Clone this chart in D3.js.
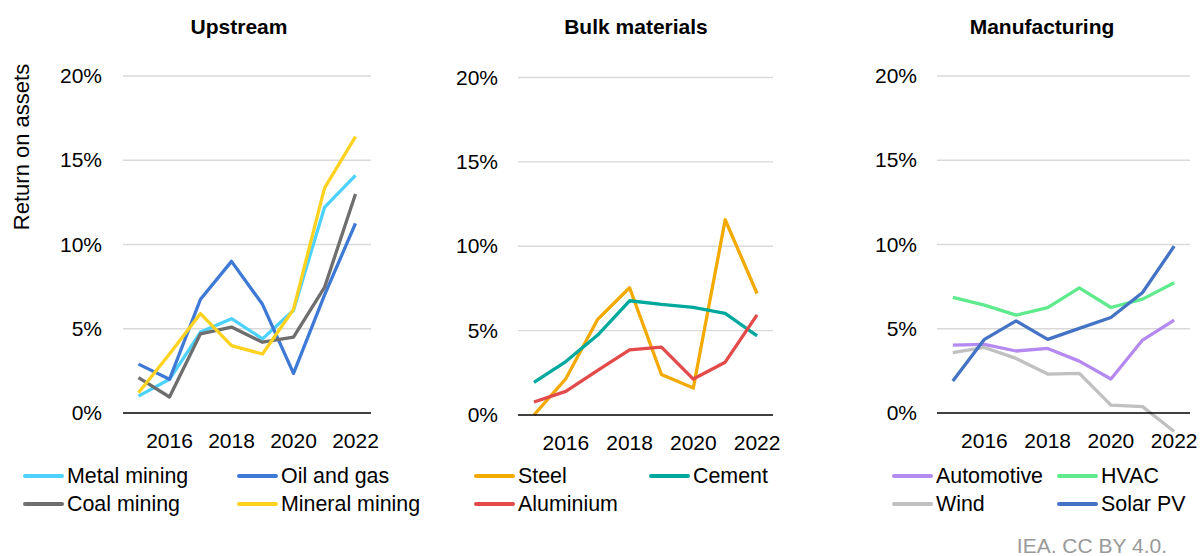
<!DOCTYPE html>
<html><head><meta charset="utf-8">
<script src="https://cdn.jsdelivr.net/npm/d3@7"></script>
<style>
html,body{margin:0;padding:0;background:#fff;}
svg{display:block;font-family:"Liberation Sans",Arial,sans-serif;}
</style></head>
<body><svg id="c" width="1200" height="556"></svg>
<script>
const years = [2015, 2016, 2017, 2018, 2019, 2020, 2021, 2022];
const yTicks = [0, 5, 10, 15, 20];
const xTickLabels = [2016, 2018, 2020, 2022];
const panelTitles = ["Upstream", "Bulk materials", "Manufacturing"];
const yAxisTitle = "Return on assets";
const sourceText = "IEA. CC BY 4.0.";

// Upstream
const metalMining   = [1.0, 2.0, 4.8, 5.6, 4.4, 6.1, 12.2, 14.1];
const oilAndGas     = [2.9, 2.0, 6.75, 9.0, 6.45, 2.35, 7.0, 11.25];
const coalMining    = [2.1, 0.95, 4.7, 5.1, 4.2, 4.5, 7.45, 13.0];
const mineralMining = [1.2, 3.5, 5.9, 4.0, 3.5, 6.15, 13.35, 16.4];
// Bulk materials
const steel     = [0.0, 2.15, 5.67, 7.54, 2.4, 1.6, 11.57, 7.2];
const cement    = [1.93, 3.17, 4.74, 6.77, 6.55, 6.38, 6.02, 4.69];
const aluminium = [0.77, 1.4, 2.64, 3.86, 4.02, 2.13, 3.13, 5.93];
// Manufacturing
const automotive = [4.03, 4.07, 3.68, 3.83, 3.08, 2.02, 4.33, 5.51];
const hvac       = [6.86, 6.4, 5.81, 6.25, 7.43, 6.26, 6.76, 7.73];
const wind       = [3.58, 3.89, 3.24, 2.31, 2.35, 0.47, 0.38, -1.1];
const solarPV    = [1.9, 4.37, 5.47, 4.37, 5.02, 5.67, 7.15, 9.9];

const panels = [
  {title: panelTitles[0], x0: 123, x1: 371, yTop: 76, yZero: 413, titleX: 239, labelRight: 102,
   series: [
     {name: "Metal mining", values: metalMining, color: "#4dd2ff"},
     {name: "Oil and gas", values: oilAndGas, color: "#3e79d6"},
     {name: "Coal mining", values: coalMining, color: "#6e6e6e"},
     {name: "Mineral mining", values: mineralMining, color: "#ffd21f"}
   ],
   legend: [{i:0,x:23,row:0},{i:1,x:237,row:0},{i:2,x:23,row:1},{i:3,x:237,row:1}]},
  {title: panelTitles[1], x0: 518, x1: 773, yTop: 77.5, yZero: 415, titleX: 636, labelRight: 498,
   series: [
     {name: "Steel", values: steel, color: "#f2a900"},
     {name: "Cement", values: cement, color: "#00a99d"},
     {name: "Aluminium", values: aluminium, color: "#e34a4a"}
   ],
   legend: [{i:0,x:474,row:0},{i:1,x:649,row:0},{i:2,x:474,row:1}]},
  {title: panelTitles[2], x0: 937, x1: 1190, yTop: 76, yZero: 413, titleX: 1042, labelRight: 917,
   series: [
     {name: "Automotive", values: automotive, color: "#b58af0"},
     {name: "HVAC", values: hvac, color: "#5eea8d"},
     {name: "Wind", values: wind, color: "#c0c0c0"},
     {name: "Solar PV", values: solarPV, color: "#4472c4"}
   ],
   legend: [{i:0,x:892,row:0},{i:1,x:1057,row:0},{i:2,x:892,row:1},{i:3,x:1057,row:1}]}
];

const svg = d3.select("#c");
const FONT = 21;
const legendRowY = [476, 504];

panels.forEach(p => {
  const x = d3.scaleBand().domain(years).range([p.x0, p.x1]).padding(0);
  const y = d3.scaleLinear().domain([0, 20]).range([p.yZero, p.yTop]);
  const cx = d => x(d) + x.bandwidth() / 2;
  const g = svg.append("g");

  g.append("text").attr("x", p.titleX).attr("y", 34).attr("text-anchor", "middle")
    .attr("font-size", FONT).attr("font-weight", "bold").attr("fill", "#000").text(p.title);

  g.append("g").selectAll("line").data(yTicks.filter(t => t !== 0)).join("line")
    .attr("x1", p.x0).attr("x2", p.x1).attr("y1", d => y(d)).attr("y2", d => y(d))
    .attr("stroke", "#d9d9d9").attr("stroke-width", 1.3);

  const ya = g.append("g").attr("transform", `translate(${p.labelRight},0)`)
    .call(d3.axisLeft(y).tickValues(yTicks).tickFormat(d => d + "%").tickSize(0).tickPadding(0));
  ya.select(".domain").remove();
  ya.selectAll("text").attr("font-size", FONT).attr("font-family", "Liberation Sans, Arial, sans-serif").attr("fill", "#000");

  const xa = g.append("g").attr("transform", `translate(0,${p.yZero})`)
    .call(d3.axisBottom(x).tickValues(xTickLabels).tickSize(0).tickPadding(20));
  xa.select(".domain").remove();
  xa.selectAll("text").attr("font-size", FONT).attr("font-family", "Liberation Sans, Arial, sans-serif").attr("fill", "#000");

  const line = d3.line().x((d, i) => cx(years[i])).y(d => y(d));
  p.series.forEach(s => {
    g.append("path").datum(s.values).attr("d", line).attr("fill", "none")
      .attr("stroke", s.color).attr("stroke-width", 3.3)
      .attr("stroke-linejoin", "round").attr("stroke-linecap", "butt");
  });

  g.append("line").attr("x1", p.x0).attr("x2", p.x1).attr("y1", y(0)).attr("y2", y(0))
    .attr("stroke", "#000").attr("stroke-width", 1.3);

  p.legend.forEach(l => {
    const s = p.series[l.i];
    const ly = legendRowY[l.row];
    g.append("line").attr("x1", l.x + 2).attr("x2", l.x + 39).attr("y1", ly).attr("y2", ly)
      .attr("stroke", s.color).attr("stroke-width", 4).attr("stroke-linecap", "round");
    g.append("text").attr("x", l.x + 44).attr("y", ly).attr("dy", "0.35em")
      .attr("font-size", 21.4).attr("fill", "#000").text(s.name);
  });
});

svg.append("text").attr("transform", "translate(29,147) rotate(-90)")
  .attr("text-anchor", "middle").attr("font-size", 22).attr("fill", "#000").text(yAxisTitle);

svg.append("text").attr("x", 1167).attr("y", 553).attr("text-anchor", "end")
  .attr("font-size", 21).attr("fill", "#999").text(sourceText);
</script></body></html>
